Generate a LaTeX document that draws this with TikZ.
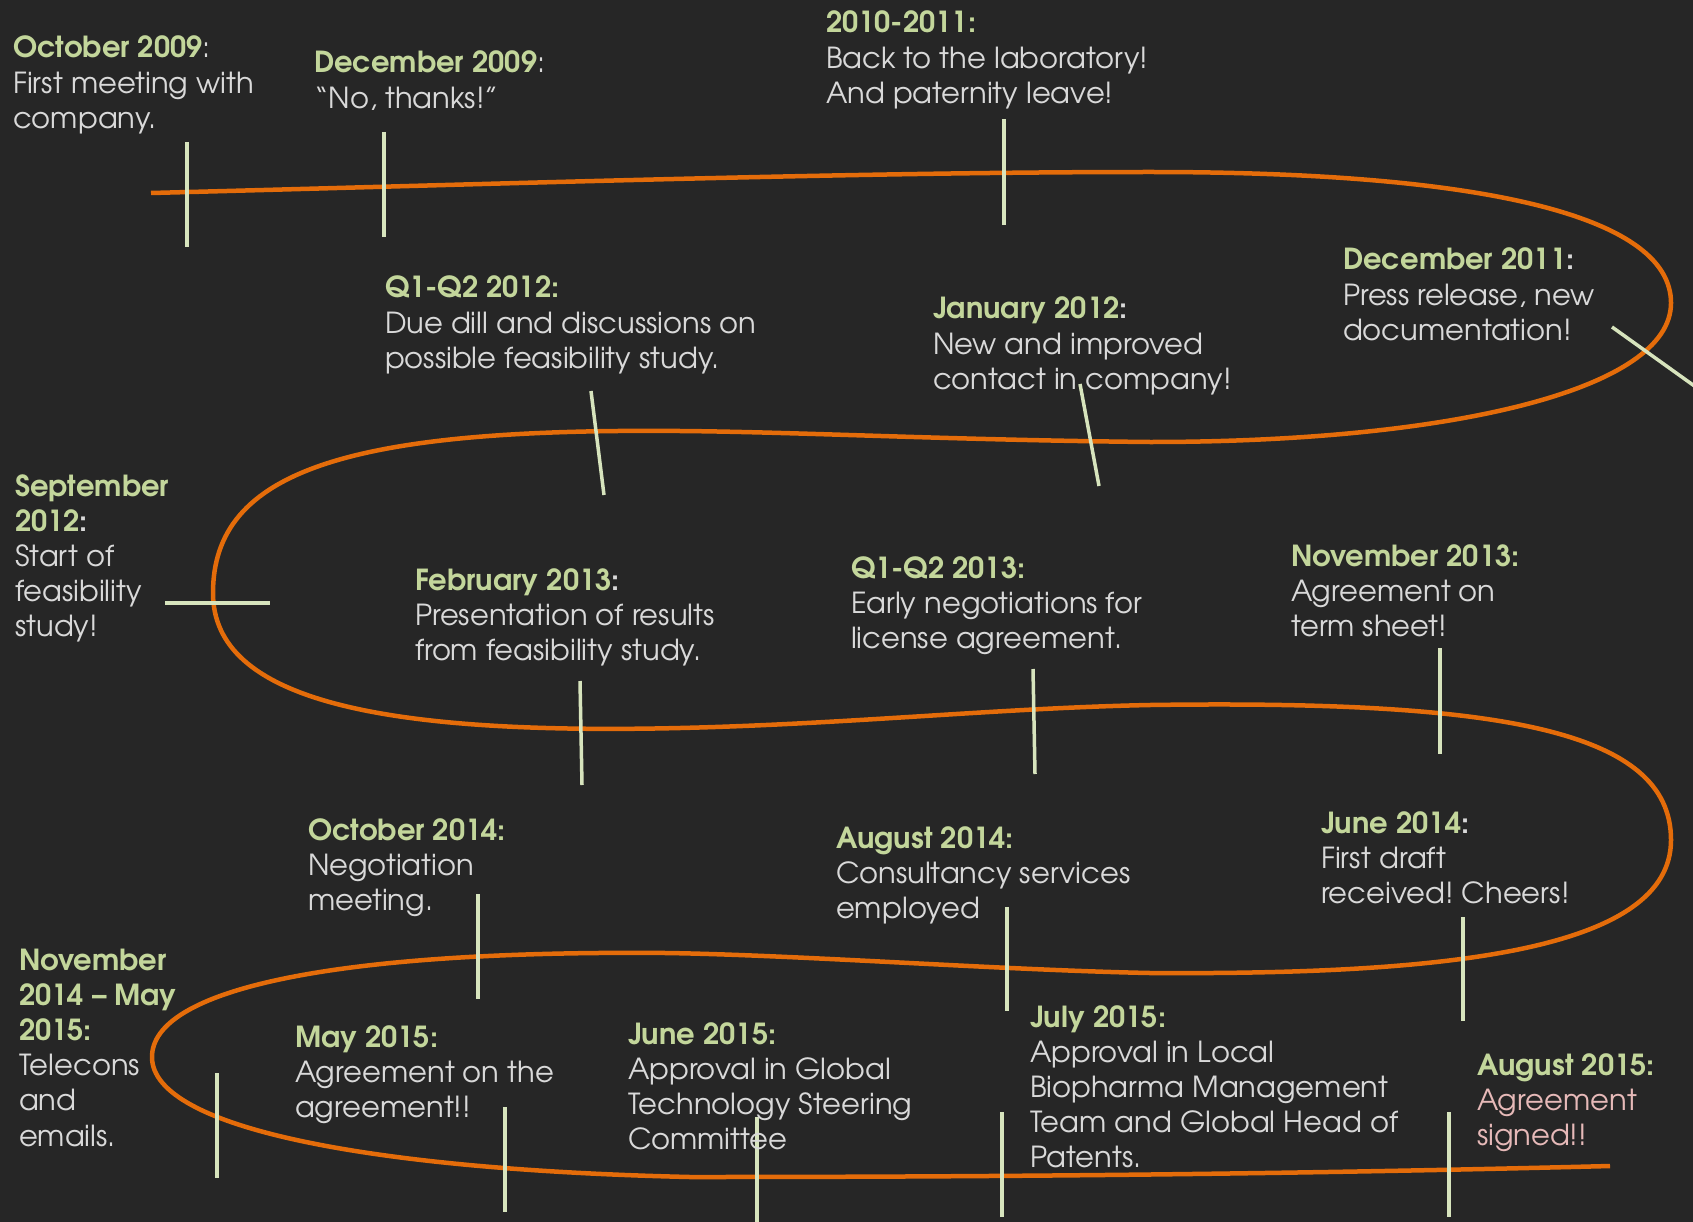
\documentclass[tikz,border=0pt]{standalone}
\usepackage{fontspec}
\setmainfont{TeX Gyre Adventor}
\frenchspacing
\definecolor{bgdark}{HTML}{262626}
\definecolor{roadorange}{HTML}{E46C0A}
\definecolor{tickgreen}{HTML}{D7E4BD}
\definecolor{headgreen}{HTML}{C3D69B}
\definecolor{bodygray}{HTML}{D9D9D9}
\definecolor{pinktext}{HTML}{E6B9B8}
\newcommand\hd[1]{\textcolor{headgreen}{\textbf{#1}}}
\newcommand\bc{\textbf{:}}
\newcommand\tl[1]{\begin{tabular}[t]{@{}l@{}}#1\end{tabular}}
\tikzset{
  evt/.style={anchor=base west, inner sep=0pt, outer sep=0pt, text=bodygray,
    font=\fontsize{29}{35.2}\selectfont\frenchspacing},
  tickline/.style={draw=tickgreen, line width=3.5pt},
  road/.style={draw=roadorange, line width=4.5pt}
}
\begin{document}
\begin{tikzpicture}[x=1pt,y=-1pt]
\fill[bgdark] (0,0) rectangle (1693,1222);
\useasboundingbox (0,0) rectangle (1693,1222);

% the winding road
\draw[road] (151,193) .. controls (500,184) and (850,172) .. (1150,172)
  .. controls (1500,172) and (1671,220) .. (1671,303)
  .. controls (1671,390) and (1450,442) .. (1150,442)
  .. controls (950,440) and (800,432) .. (680,431)
  .. controls (350,428) and (213,470) .. (213,593)
  .. controls (213,700) and (380,735) .. (680,728)
  .. controls (850,724) and (1000,708) .. (1150,705)
  .. controls (1500,700) and (1671,730) .. (1671,840)
  .. controls (1671,950) and (1450,975) .. (1150,973)
  .. controls (1000,970) and (800,955) .. (666,953)
  .. controls (330,950) and (152,990) .. (152,1057)
  .. controls (152,1130) and (380,1170) .. (690,1177)
  .. controls (1000,1177) and (1300,1174) .. (1610,1166);

% tick marks
\coordinate (t1a) at (187,142);   \coordinate (t1b) at (187,247);
\coordinate (t2a) at (384,132);   \coordinate (t2b) at (384,237);
\coordinate (t3a) at (1004,119);  \coordinate (t3b) at (1004,225);
\coordinate (t4a) at (1612,327);  \coordinate (t4b) at (1700,390);
\coordinate (t5a) at (1080,384);  \coordinate (t5b) at (1099,486);
\coordinate (t6a) at (591,391);   \coordinate (t6b) at (604,495);
\coordinate (t7a) at (165,603);   \coordinate (t7b) at (270,603);
\coordinate (t8a) at (580,681);   \coordinate (t8b) at (582,785);
\coordinate (t9a) at (1033,669);  \coordinate (t9b) at (1035,774);
\coordinate (t10a) at (1440,648); \coordinate (t10b) at (1440,754);
\coordinate (t11a) at (1463,917); \coordinate (t11b) at (1463,1021);
\coordinate (t12a) at (1007,907); \coordinate (t12b) at (1007,1011);
\coordinate (t13a) at (478,894);  \coordinate (t13b) at (478,999);
\coordinate (t14a) at (217,1073); \coordinate (t14b) at (217,1178);
\coordinate (t15a) at (505,1107); \coordinate (t15b) at (505,1212);
\coordinate (t16a) at (757,1117); \coordinate (t16b) at (757,1222);
\coordinate (t17a) at (1002,1112);\coordinate (t17b) at (1002,1217);
\coordinate (t18a) at (1449,1112);\coordinate (t18b) at (1449,1217);
\foreach \i in {1,...,18} \draw[tickline] (t\i a) -- (t\i b);

% events
\node[evt] (e1) at (13,58) {\tl{\hd{October 2009}:\\First meeting with\\company.}};
\node[evt] (e2) at (314,73) {\tl{\hd{December 2009}:\\“No, thanks!”}};
\node[evt] (e3) at (826,33) {\tl{\hd{2010-2011:}\\Back to the laboratory!\\And paternity leave!}};
\node[evt] (e4) at (1343,270) {\tl{\hd{December 2011}\bc\\Press release, new\\documentation!}};
\node[evt] (e5) at (933,319) {\tl{\hd{January 2012}\bc\\New and improved\\contact in company!}};
\node[evt] (e6) at (385,298) {\tl{\hd{Q1-Q2 2012:}\\Due dill and discussions on\\possible feasibility study.}};
\node[evt] (e7) at (15,496) {\tl{\hd{September}\\\hd{2012}\bc\\Start of\\feasibility\\study!}};
\node[evt] (e8) at (415,590) {\tl{\hd{February 2013}\bc\\Presentation of results\\from feasibility study.}};
\node[evt] (e9) at (851,578) {\tl{\hd{Q1-Q2 2013:}\\Early negotiations for\\license agreement.}};
\node[evt] (e10) at (1291,566) {\tl{\hd{November 2013:}\\Agreement on\\term sheet!}};
\node[evt] (e11) at (308,840) {\tl{\hd{October 2014:}\\Negotiation\\meeting.}};
\node[evt] (e12) at (836,848) {\tl{\hd{August 2014:}\\Consultancy services\\employed}};
\node[evt] (e13) at (1321,833) {\tl{\hd{June 2014}\bc\\First draft\\received! Cheers!}};
\node[evt] (e14) at (19,970) {\tl{\hd{November}\\\hd{2014 – May}\\\hd{2015:}\\Telecons\\and\\emails.}};
\node[evt] (e15) at (295,1047) {\tl{\hd{May 2015:}\\Agreement on the\\agreement!!}};
\node[evt] (e16) at (628,1044) {\tl{\hd{June 2015:}\\Approval in Global\\Technology Steering\\Committee}};
\node[evt] (e17) at (1030,1027) {\tl{\hd{July 2015:}\\Approval in Local\\Biopharma Management\\Team and Global Head of\\Patents.}};
\node[evt] (e18) at (1477,1075) {\tl{\hd{August 2015:}\\\textcolor{pinktext}{Agreement}\\\textcolor{pinktext}{signed!!}}};
\end{tikzpicture}
\end{document}
